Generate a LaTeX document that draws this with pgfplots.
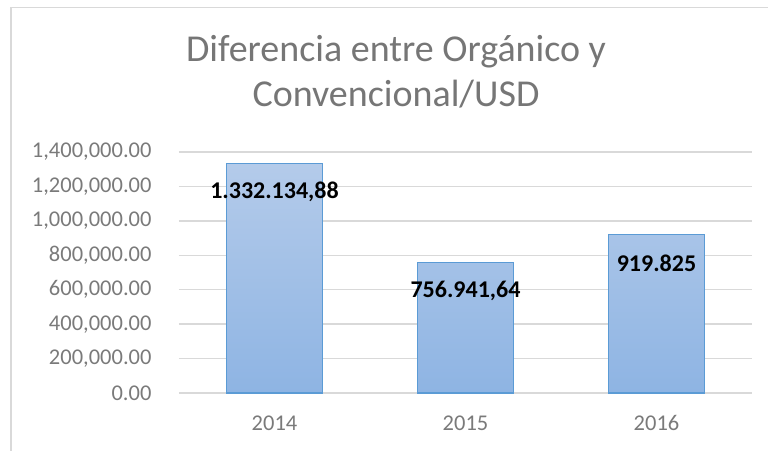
\documentclass[border=0pt]{standalone}
\usepackage{fontspec}
\setmainfont{Carlito}
\usepackage{pgfplots}
\pgfplotsset{compat=1.18}
\definecolor{titlegray}{HTML}{767676}
\definecolor{tickgray}{HTML}{7A7A7A}
\definecolor{gridgray}{HTML}{D9D9D9}
\definecolor{bordergray}{HTML}{D9D9D9}
\definecolor{barborder}{HTML}{5B9BD5}
\definecolor{bartop}{HTML}{B4CBEA}
\definecolor{barbottom}{HTML}{8EB4E3}
\begin{document}
\begin{tikzpicture}[x=1pt,y=1pt]
\path[use as bounding box] (0,0) rectangle (768,450);
\draw[bordergray, line width=1.5pt] (11,-10) -- (11,442.5) -- (790,442.5);
\node[anchor=base, font=\fontsize{38}{46}\selectfont, text=titlegray] at (396,388) {Diferencia entre Orgánico y};
\node[anchor=base, font=\fontsize{38}{46}\selectfont, text=titlegray] at (396,343) {Convencional/USD};
\begin{axis}[
  at={(179pt,57pt)}, anchor=south west,
  scale only axis, width=573pt, height=241pt,
  xmin=-0.5, xmax=2.5, ymin=0, ymax=1400000,
  xtick={0,1,2}, xticklabels={2014,2015,2016},
  ytick={0,200000,400000,600000,800000,1000000,1200000,1400000},
  scaled y ticks=false,
  /pgf/number format/assume math mode=true,
  yticklabel={\pgfmathprintnumber[fixed, fixed zerofill, precision=2, 1000 sep={,}, dec sep={.}]{\tick}},
  ticklabel style={font=\fontsize{22.5}{26}\selectfont, text=tickgray},
  xticklabel style={yshift=-19pt},
  yticklabel style={xshift=-24pt},
  axis line style={draw=none},
  tick style={draw=none},
  ymajorgrids, grid style={gridgray, line width=1.5pt},
  clip=false,
]
\addplot[ybar, bar width=96pt, draw=barborder, line width=1.5pt, top color=bartop, bottom color=barbottom]
  coordinates {(0,1332134.88) (1,756941.64) (2,919825)};
\node[font=\bfseries\fontsize{24}{24}\selectfont] at (axis cs:0,1167600) {1.332.134,88};
\node[font=\bfseries\fontsize{24}{24}\selectfont] at (axis cs:1,592500) {756.941,64};
\node[font=\bfseries\fontsize{24}{24}\selectfont] at (axis cs:2,755000) {919.825};
\end{axis}
\end{tikzpicture}
\end{document}
